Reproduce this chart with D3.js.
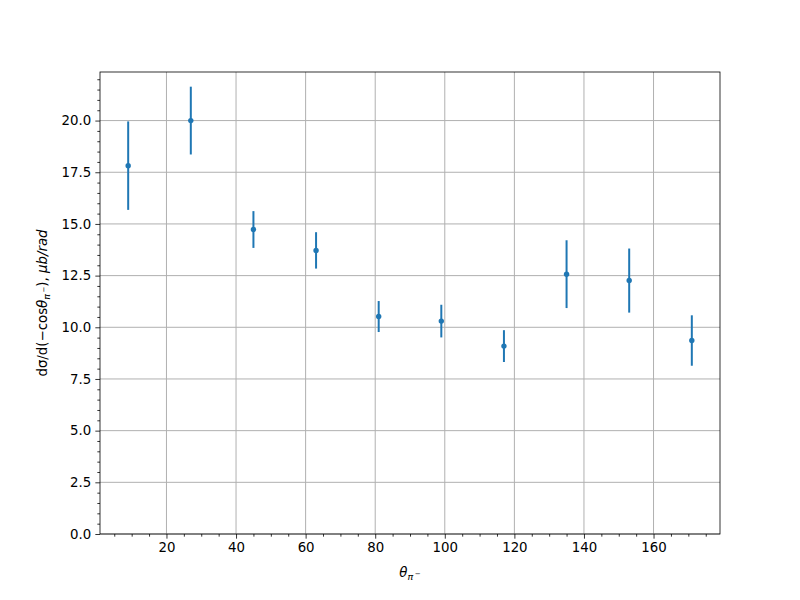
<!DOCTYPE html>
<html><head><meta charset="utf-8">
<script src="https://cdn.jsdelivr.net/npm/d3@7"></script>
<style>body{margin:0;background:#fff}svg{font-family:"DejaVu Sans",sans-serif}</style>
</head><body><svg id="c" width="800" height="600"></svg>
<script>
const theta = [9, 27, 45, 63, 81, 99, 117, 135, 153, 171];
const xsec = [17.82, 20.0, 14.73, 13.72, 10.52, 10.30, 9.09, 12.57, 12.26, 9.36];
const err = [2.14, 1.64, 0.89, 0.88, 0.75, 0.79, 0.77, 1.64, 1.55, 1.22];
const xTicks = [20, 40, 60, 80, 100, 120, 140, 160];
const yTicks = [0, 2.5, 5, 7.5, 10, 12.5, 15, 17.5, 20];

const svg = d3.select("#c");
const L = 100, R = 720, T = 72, B = 534;
const x = d3.scaleLinear().domain([0.9, 179.1]).range([L, R]);
const y = d3.scaleLinear().domain([0, 22.35]).range([B, T]);
const fs = 13.33;

// grid
svg.append("g").selectAll("line").data(xTicks).join("line")
  .attr("x1", d => x(d)).attr("x2", d => x(d)).attr("y1", T).attr("y2", B)
  .attr("stroke", "#b0b0b0").attr("stroke-width", 1);
svg.append("g").selectAll("line").data(yTicks).join("line")
  .attr("y1", d => y(d)).attr("y2", d => y(d)).attr("x1", L).attr("x2", R)
  .attr("stroke", "#b0b0b0").attr("stroke-width", 1);

// axes
const xAxis = d3.axisBottom(x).tickValues(xTicks).tickSize(4.67).tickPadding(4.2).tickFormat(d3.format("d"));
const xMinor = d3.axisBottom(x).tickValues(d3.range(5, 179, 5).filter(v => v % 20 !== 0)).tickSize(2.67).tickFormat("");
const yAxis = d3.axisLeft(y).tickValues(yTicks).tickSize(4.67).tickPadding(4.2).tickFormat(d3.format(".1f"));
const yMinor = d3.axisLeft(y).tickValues(d3.range(0.5, 22.35, 0.5).filter(v => Math.abs(v / 2.5 - Math.round(v / 2.5)) > 1e-6)).tickSize(2.67).tickFormat("");

function style(g) {
  g.select(".domain").remove();
  g.selectAll("line").attr("stroke", "#000").attr("stroke-width", 0.8);
  g.selectAll("text").attr("font-size", fs).attr("fill", "#000").attr("font-family", "DejaVu Sans");
}
svg.append("g").attr("transform", `translate(0,${B})`).call(xAxis).call(style);
svg.append("g").attr("transform", `translate(0,${B})`).call(xMinor).call(style);
svg.append("g").attr("transform", `translate(${L},0)`).call(yAxis).call(style);
svg.append("g").attr("transform", `translate(${L},0)`).call(yMinor).call(style);

// data
const data = theta.map((t, i) => ({t, v: xsec[i], e: err[i]}));
svg.append("g").selectAll("line").data(data).join("line")
  .attr("x1", d => x(d.t)).attr("x2", d => x(d.t))
  .attr("y1", d => y(d.v - d.e)).attr("y2", d => y(d.v + d.e))
  .attr("stroke", "#1f77b4").attr("stroke-width", 2);
svg.append("g").selectAll("circle").data(data).join("circle")
  .attr("cx", d => x(d.t)).attr("cy", d => y(d.v)).attr("r", 2.7)
  .attr("fill", "#1f77b4");

// frame
svg.append("rect").attr("x", L).attr("y", T).attr("width", R - L).attr("height", B - T)
  .attr("fill", "none").attr("stroke", "#000").attr("stroke-width", 0.8);

// x label
const xl = svg.append("text").attr("x", (L + R) / 2).attr("y", 577).attr("text-anchor", "middle")
  .attr("font-size", fs).attr("fill", "#000");
xl.append("tspan").attr("font-style", "italic").text("θ");
xl.append("tspan").attr("font-style", "italic").attr("font-size", 9.5).attr("dy", 2.5).text("π");
xl.append("tspan").attr("font-size", 7).attr("dx", 1.5).attr("dy", -4).text("−");

// y label
const yl = svg.append("text").attr("transform", `translate(47,${(T + B) / 2}) rotate(-90)`)
  .attr("text-anchor", "middle").attr("font-size", fs).attr("fill", "#000");
yl.append("tspan").text("dσ/d(−cos");
yl.append("tspan").attr("font-style", "italic").text("θ");
yl.append("tspan").attr("font-style", "italic").attr("font-size", 9.5).attr("dy", 2.5).text("π");
yl.append("tspan").attr("font-size", 7).attr("dx", 1.5).attr("dy", -4).text("−");
yl.append("tspan").attr("dy", 1.5).text("), ");
yl.append("tspan").attr("font-style", "italic").text("μb/rad");
</script></body></html>
